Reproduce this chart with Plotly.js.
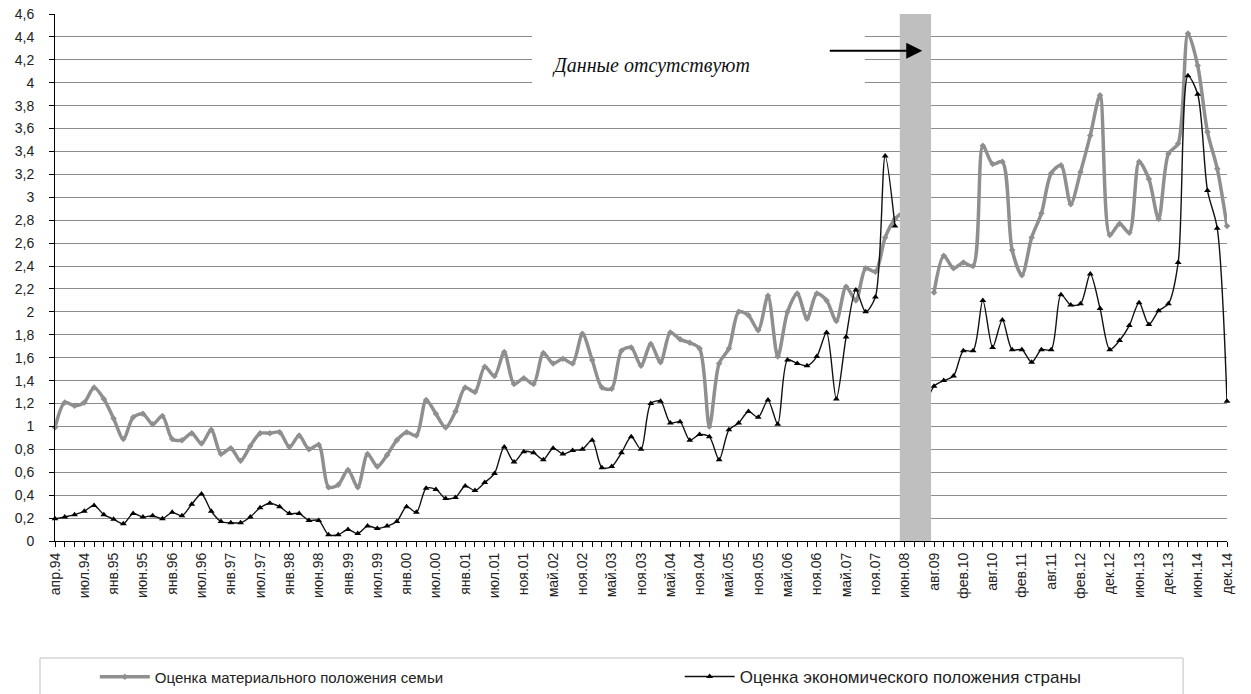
<!DOCTYPE html>
<html><head><meta charset="utf-8">
<script src="https://cdn.plot.ly/plotly-3.0.1.min.js"></script>
<style>body{margin:0;background:#fff}#chart{width:1251px;height:694px}</style>
</head><body><div id="chart"></div>
<script>
const tickLabels = ['апр.94','июл.94','янв.95','июн.95','янв.96','июл.96','янв.97','июл.97','янв.98','июн.98',
  'янв.99','июл.99','янв.00','июл.00','янв.01','июл.01','ноя.01','май.02','ноя.02','май.03',
  'ноя.03','май.04','ноя.04','май.05','ноя.05','май.06','ноя.06','май.07','ноя.07','июн.08',
  'авг.09','фев.10','авг.10','фев.11','авг.11','фев.12','дек.12','июн.13','дек.13','июн.14','дек.14'];

const familyScore = [
  0.99,1.21,1.18,1.21,1.34,1.24,1.07,0.89,1.08,1.11,
  1.02,1.09,0.89,0.88,0.94,0.85,0.97,0.76,0.81,0.70,
  0.83,0.94,0.94,0.95,0.82,0.92,0.80,0.84,0.47,0.49,
  0.62,0.47,0.76,0.65,0.75,0.88,0.95,0.92,1.23,1.11,
  0.99,1.13,1.34,1.30,1.52,1.44,1.65,1.37,1.42,1.37,
  1.64,1.55,1.59,1.55,1.81,1.58,1.34,1.33,1.66,1.69,
  1.53,1.72,1.56,1.82,1.76,1.73,1.68,1.00,1.55,1.68,
  2.00,1.97,1.84,2.14,1.61,2.00,2.16,1.94,2.16,2.10,
  1.92,2.22,2.10,2.38,2.35,2.65,2.81,2.88,null,null,
  2.17,2.49,2.38,2.43,2.40,3.45,3.29,3.31,2.54,2.32,
  2.65,2.86,3.21,3.28,2.94,3.22,3.54,3.89,2.67,2.77,
  2.69,3.31,3.16,2.81,3.38,3.47,4.43,4.15,3.57,3.25,
  2.75];

const economyScore = [
  0.195,0.21,0.23,0.26,0.31,0.23,0.19,0.15,0.24,0.21,
  0.22,0.195,0.25,0.22,0.32,0.41,0.26,0.17,0.16,0.16,
  0.21,0.29,0.33,0.30,0.24,0.24,0.18,0.18,0.055,0.055,
  0.10,0.065,0.13,0.11,0.13,0.17,0.30,0.25,0.46,0.45,
  0.37,0.38,0.48,0.44,0.51,0.59,0.82,0.69,0.78,0.77,
  0.71,0.81,0.76,0.79,0.80,0.88,0.64,0.65,0.77,0.91,
  0.80,1.20,1.22,1.03,1.04,0.88,0.93,0.91,0.71,0.97,
  1.03,1.13,1.08,1.23,1.02,1.58,1.55,1.53,1.61,1.82,
  1.24,1.78,2.19,2.00,2.13,3.36,2.75,null,null,1.15,
  1.35,1.40,1.44,1.66,1.66,2.10,1.69,1.93,1.67,1.67,
  1.56,1.67,1.67,2.15,2.06,2.07,2.33,2.03,1.67,1.75,
  1.88,2.08,1.89,2.01,2.07,2.43,4.06,3.90,3.06,2.73,
  1.22];

const idx = familyScore.map((_, i) => i);
const tickText = idx.map(i => (i % 3 === 0 ? tickLabels[i / 3] : ''));
const FONT = 'Liberation Sans, Arial, sans-serif';

const traces = [
  {
    x: idx, y: familyScore, type: 'scatter', mode: 'lines+markers',
    name: 'Оценка материального положения семьи', legend: 'legend',
    line: {color: '#8f8f8f', width: 3.5, shape: 'spline', smoothing: 0.8},
    marker: {symbol: 'diamond', size: 5, color: '#8f8f8f'},
    connectgaps: false, cliponaxis: false
  },
  {
    x: idx, y: economyScore, type: 'scatter', mode: 'lines+markers',
    name: 'Оценка экономического положения страны', legend: 'legend2',
    line: {color: '#111111', width: 1.4, shape: 'spline', smoothing: 0.8},
    marker: {symbol: 'triangle-up', size: 6, color: '#000000'},
    connectgaps: false, cliponaxis: false
  }
];

const legendCommon = {
  orientation: 'h', xref: 'container', yref: 'container',
  xanchor: 'left', y: 0.0245, yanchor: 'middle',
  itemwidth: 50, bgcolor: 'rgba(0,0,0,0)', borderwidth: 0
};

const layout = {
  width: 1251, height: 694,
  margin: {l: 55, r: 24, t: 14, b: 153},
  separators: ', ',
  paper_bgcolor: '#ffffff', plot_bgcolor: '#ffffff',
  font: {family: FONT, size: 14, color: '#222'},
  xaxis: {
    range: [0, 120], tickmode: 'array', tickvals: idx, ticktext: tickText,
    tickangle: -90, ticks: 'outside', ticklen: 5, tickcolor: '#000', tickwidth: 1,
    showline: true, linecolor: '#000', linewidth: 1, showgrid: false, zeroline: false,
    tickfont: {family: FONT, size: 14, color: '#222'}
  },
  yaxis: {
    range: [0, 4.6], tick0: 0, dtick: 0.2, ticks: 'outside', ticklen: 5, tickcolor: '#000',
    showline: true, linecolor: '#000', linewidth: 1, gridcolor: '#8c8c8c', gridwidth: 1,
    zeroline: false, ticklabelstandoff: 12,
    tickfont: {family: FONT, size: 14, color: '#222'}
  },
  showlegend: true,
  legend: Object.assign({}, legendCommon, {x: 0.0758, font: {family: FONT, size: 15, color: '#222'}}),
  legend2: Object.assign({}, legendCommon, {x: 0.5433, font: {family: FONT, size: 17, color: '#222'}}),
  shapes: [
    {type: 'rect', xref: 'x', yref: 'paper', x0: 86.5, x1: 89.7, y0: 0, y1: 1,
     fillcolor: '#bfbfbf', line: {width: 0}, layer: 'above'},
    {type: 'rect', xref: 'paper', yref: 'paper', x0: 0.407, x1: 0.691, y0: 0.85, y1: 0.973,
     fillcolor: '#ffffff', line: {width: 0}, layer: 'above'},
    {type: 'rect', xref: 'paper', yref: 'paper', x0: -0.0128, x1: 0.9625, y0: -0.222, y1: -0.35,
     fillcolor: 'rgba(0,0,0,0)', line: {color: '#c0c0c0', width: 1}, layer: 'above'}
  ],
  annotations: [
    {text: '<i>Данные отсутствуют</i>', x: 61, y: 4.15, xref: 'x', yref: 'y', showarrow: false,
     font: {family: 'Liberation Serif, serif', size: 20, color: '#111'}},
    {text: '', x: 88.8, y: 4.28, xref: 'x', yref: 'y', showarrow: true,
     ax: -94, ay: 0, axref: 'pixel', ayref: 'pixel',
     arrowhead: 2, arrowsize: 1.6, arrowwidth: 2, arrowcolor: '#000'}
  ]
};

Plotly.newPlot('chart', traces, layout, {displayModeBar: false, staticPlot: true});
</script>
</body></html>
